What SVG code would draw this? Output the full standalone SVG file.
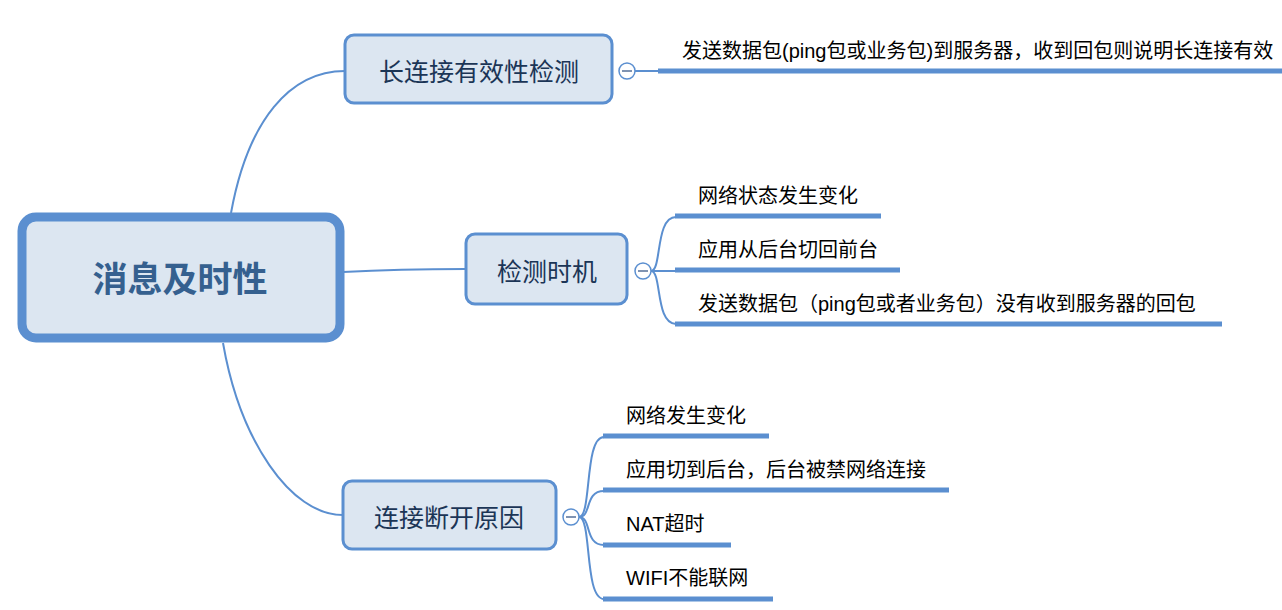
<svg xmlns="http://www.w3.org/2000/svg" width="1282" height="610" viewBox="0 0 1282 610">
<style>
.conn{fill:none;stroke:#5b8fd0;stroke-width:2}
.bar{fill:none;stroke:#5b8fd0;stroke-width:5}
.node{fill:#dce6f1;stroke:#5b8fd0;stroke-width:3}
.ntxt{font-family:"Liberation Sans","Noto Sans CJK SC",sans-serif;font-size:25px;fill:#1b3556;text-anchor:middle}
.leaf{font-family:"Liberation Sans","Noto Sans CJK SC",sans-serif;font-size:20px;fill:#000}
.tog{fill:#fff;stroke:#5b8fd0;stroke-width:1.5}
.minus{stroke:#7f93b2;stroke-width:2}
</style>
<rect width="1282" height="610" fill="#fff"/>
<g id="connectors">
<path class="conn" d="M231,213 C248,120 290,71 345,71"/>
<path class="conn" d="M343,272 C380,270 420,269 466,269"/>
<path class="conn" d="M223,343 C240,440 290,515 343,515"/>
<path class="conn" d="M635,71 L660,71"/>
<path class="conn" d="M651,271 C662,271 655,217 676,217"/>
<path class="conn" d="M651,271 L676,271"/>
<path class="conn" d="M651,271 C662,271 655,324 676,324"/>
<path class="conn" d="M579,517 C592,517 584,437 604,437"/>
<path class="conn" d="M579,517 C592,517 584,491 604,491"/>
<path class="conn" d="M579,517 C592,517 584,545 604,545"/>
<path class="conn" d="M579,517 C592,517 584,599 604,599"/>
</g>
<g id="root">
<rect x="22" y="217" width="318" height="121" rx="14" fill="#dce6f1" stroke="#5b8fd0" stroke-width="9"/>
<text x="180" y="292" font-family="'Liberation Sans','Noto Sans CJK SC',sans-serif" font-size="35" font-weight="bold" fill="#35608f" text-anchor="middle">消息及时性</text>
</g>
<g id="n1">
<rect class="node" x="345" y="35" width="267" height="68" rx="9"/>
<text class="ntxt" x="479" y="81">长连接有效性检测</text>
<circle class="tog" cx="627" cy="71" r="8"/>
<line class="minus" x1="622" y1="71" x2="632" y2="71"/>
</g>
<g id="n1a">
<line class="bar" x1="658" y1="71" x2="1282" y2="71"/>
<text class="leaf" x="682" y="58">发送数据包(ping包或业务包)到服务器，收到回包则说明长连接有效</text>
</g>
<g id="n2">
<rect class="node" x="466" y="234" width="161" height="70" rx="9"/>
<text class="ntxt" x="547" y="281">检测时机</text>
<circle class="tog" cx="643" cy="271" r="8"/>
<line class="minus" x1="638" y1="271" x2="648" y2="271"/>
</g>
<g id="n2a"><line class="bar" x1="675" y1="216" x2="881" y2="216"/><text class="leaf" x="698" y="203">网络状态发生变化</text></g>
<g id="n2b"><line class="bar" x1="675" y1="270" x2="900" y2="270"/><text class="leaf" x="698" y="257">应用从后台切回前台</text></g>
<g id="n2c"><line class="bar" x1="675" y1="324" x2="1222" y2="324"/><text class="leaf" x="698" y="311">发送数据包（ping包或者业务包）没有收到服务器的回包</text></g>
<g id="n3">
<rect class="node" x="343" y="481" width="213" height="68" rx="9"/>
<text class="ntxt" x="449" y="527">连接断开原因</text>
<circle class="tog" cx="571" cy="517" r="8"/>
<line class="minus" x1="566" y1="517" x2="576" y2="517"/>
</g>
<g id="n3a"><line class="bar" x1="603" y1="436" x2="769" y2="436"/><text class="leaf" x="626" y="423">网络发生变化</text></g>
<g id="n3b"><line class="bar" x1="603" y1="490" x2="949" y2="490"/><text class="leaf" x="626" y="477">应用切到后台，后台被禁网络连接</text></g>
<g id="n3c"><line class="bar" x1="603" y1="545" x2="731" y2="545"/><text class="leaf" x="626" y="531">NAT超时</text></g>
<g id="n3d"><line class="bar" x1="603" y1="599" x2="773" y2="599"/><text class="leaf" x="626" y="585">WIFI不能联网</text></g>
</svg>
